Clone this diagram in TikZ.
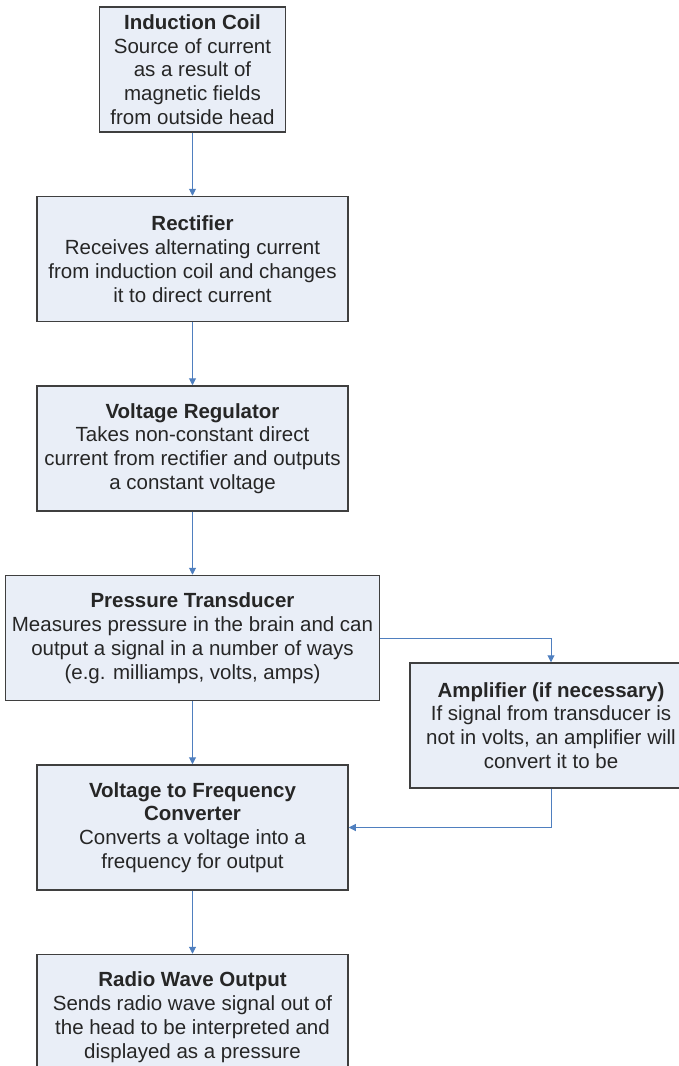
\documentclass[tikz,border=0pt]{standalone}
\usepackage{fontspec}
\setmainfont{Liberation Sans}
\usepackage{xcolor}
\usepackage{tikz}
\usetikzlibrary{positioning, arrows.meta}
\definecolor{boxfill}{HTML}{E9EEF7}
\definecolor{boxline}{HTML}{3F3F3F}
\definecolor{linkblue}{HTML}{4F7FBF}
\definecolor{bodytext}{HTML}{262626}

\begin{document}
\begin{tikzpicture}[x=1pt, y=-1pt,
    stage/.style={rectangle, draw=boxline, line width=1.5pt, fill=boxfill, minimum width=311pt, minimum height=125pt, align=center, inner sep=0pt, text=bodytext, font=\fontsize{20.5}{23.8}\selectfont},
    arrow/.style={-{Triangle[length=7pt, width=7pt]}, line width=1pt, linkblue},
    node distance=63pt
  ]

    \clip (0,0) rectangle (679,1066);

    \node[stage, minimum width=186pt] (coil) at (192.5,69.5) {\textbf{Induction Coil}\\Source of current\\as a result of\\magnetic fields\\from outside head};
    \node[stage, below=of coil] (rectifier) {\textbf{Rectifier}\\Receives alternating current\\from induction coil and changes\\it to direct current};
    \node[stage, below=of rectifier] (regulator) {\textbf{Voltage Regulator}\\Takes non-constant direct\\current from rectifier and outputs\\a constant voltage};
    \node[stage, minimum width=374pt, below=of regulator] (transducer) {\textbf{Pressure Transducer}\\Measures pressure in the brain and can\\output a signal in a number of ways\\(e.g. milliamps, volts, amps)};
    \node[stage, below=of transducer] (converter) {\textbf{Voltage to Frequency}\\\textbf{Converter}\\Converts a voltage into a\\frequency for output};
    \node[stage, below=of converter] (radio) {\textbf{Radio Wave Output}\\Sends radio wave signal out of\\the head to be interpreted and\\displayed as a pressure};
    \node[stage, minimum width=282pt] (amplifier) at (551,725.5) {\textbf{Amplifier (if necessary)}\\If signal from transducer is\\not in volts, an amplifier will\\convert it to be};

    \draw[arrow] (coil) -- (rectifier);
    \draw[arrow] (rectifier) -- (regulator);
    \draw[arrow] (regulator) -- (transducer);
    \draw[arrow] (transducer) -- (converter);
    \draw[arrow] (converter) -- (radio);
    \draw[arrow] (transducer.east) -| (amplifier.north);
    \draw[arrow] (amplifier.south) |- (converter.east);

\end{tikzpicture}
\end{document}
